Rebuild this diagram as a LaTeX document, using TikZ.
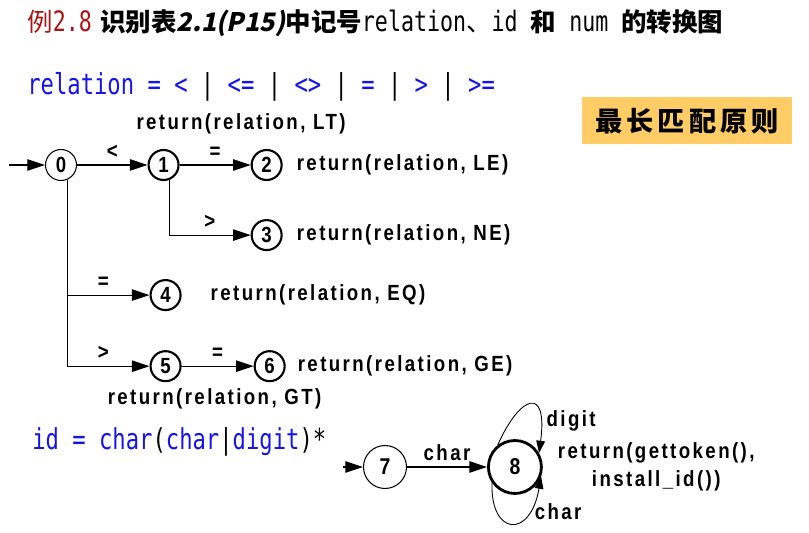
\documentclass[tikz,border=0pt]{standalone}
\usepackage{fontspec}
\usepackage{xcolor}
\usepackage{tikz}
\usetikzlibrary{arrows.meta, positioning}

\newfontfamily\cjk{Noto Sans CJK SC}
\newfontfamily\cjkslant[FakeSlant=0.2]{Noto Sans CJK SC}
\newfontfamily\cjkwide[LetterSpace=15]{Noto Sans CJK SC}
\newfontfamily\codefont[FakeStretch=0.77]{DejaVu Sans Mono}
\newfontfamily\lblfont[FakeStretch=0.85, LetterSpace=11]{Liberation Sans}

\definecolor{titlered}{RGB}{170,20,20}
\definecolor{codeblue}{RGB}{20,20,235}
\definecolor{ruleorange}{RGB}{255,204,102}

\begin{document}
\begin{tikzpicture}[x=0.02cm, y=-0.02cm,
    every node/.style={font=\lblfont\bfseries\fontsize{12.5}{15}\selectfont},
    stthin/.style={draw, circle, line width=0.6pt, minimum size=0.62cm, inner sep=0pt},
    stthick/.style={draw, circle, line width=1.2pt, minimum size=0.6cm, inner sep=0pt},
    act/.style={inner sep=1pt},
    trans/.style={line width=0.6pt, -{Triangle[length=10pt, width=6.5pt]}},
    loopedge/.style={line width=0.5pt, -{Triangle[length=7pt, width=5pt]}},
    code/.style={anchor=west, inner sep=0pt, font=\codefont\fontsize{16.4}{18}\selectfont}]

    \useasboundingbox (0,0) rectangle (809,533);

    % Title
    \node[anchor=west, inner sep=0pt, font=\fontsize{14.5}{17}\selectfont] (title) at (27,23) {%
        {\color{titlered}\cjk 例\codefont\fontsize{16}{17}\selectfont 2.8} {\cjk\bfseries 识别表}{\cjkslant\bfseries 2.1(P15)}{\cjk\bfseries 中记号}%
        {\codefont\fontsize{16}{17}\selectfont relation}{\cjk 、}{\codefont\fontsize{16}{17}\selectfont id }%
        {\cjk\bfseries 和}{\codefont\fontsize{16}{17}\selectfont\ num }{\cjk\bfseries 的转换图}};

    % Definitions
    \node[code, text=codeblue] (reldef) at (27,87)
        {relation = < {\color{black}|} <= {\color{black}|} <> {\color{black}|} = {\color{black}|} > {\color{black}|} >=};
    \node[code, text=codeblue] (iddef) at (32,442)
        {id = char{\color{black}(}char{\color{black}|}digit{\color{black})*}};

    % Longest match box
    \node[fill=ruleorange, minimum width=4.2cm, minimum height=0.94cm,
          font=\cjkwide\bfseries\fontsize{15.5}{18}\selectfont] (rule) at (687,121) {最长匹配原则};

    % relation states
    \node[stthin] (s0) at (61,165) {0};
    \node[stthick, right=1.41cm of s0] (s1) {1};
    \node[stthick, right=1.42cm of s1] (s2) {2};
    \node[stthick, below=0.76cm of s2] (s3) {3};
    \node[stthick, below=1.96cm of s1, xshift=0.04cm] (s4) {4};
    \node[stthick, below=0.78cm of s4] (s5) {5};
    \node[stthick, right=1.44cm of s5] (s6) {6};

    % relation actions
    \node[act, above=0.26cm of s1, xshift=1.55cm] (actLT) {return(relation, LT)};
    \node[act, right=0.24cm of s2] (actLE) {return(relation, LE)};
    \node[act, right=0.24cm of s3] (actNE) {return(relation, NE)};
    \node[act, right=0.54cm of s4] (actEQ) {return(relation, EQ)};
    \node[act, right=0.2cm of s6] (actGE) {return(relation, GE)};
    \node[act, below=0.08cm of s5, xshift=0.98cm] (actGT) {return(relation, GT)};

    % relation transitions
    \coordinate[left=0.71cm of s0] (in0);
    \draw[trans] (in0) -- (s0);
    \draw[trans] (s0) -- node[above] {<} (s1);
    \draw[trans] (s1) -- node[above] {=} (s2);
    \draw[trans] (s1.-70) |- node[pos=0.75, above] {>} (s3);
    \draw[trans] (s0.-67) |- node[pos=0.72, above] {=} (s4);
    \draw[trans] (s0.-67) |- node[pos=0.72, above] {>} (s5);
    \draw[trans] (s5) -- node[above] {=} (s6);

    % id states
    \node[stthin, minimum size=0.86cm, font=\lblfont\bfseries\fontsize{13}{15}\selectfont] (s7) at (385,467) {7};
    \node[stthick, minimum size=1.06cm, line width=1.6pt, right=1.6cm of s7,
          font=\lblfont\bfseries\fontsize{13}{15}\selectfont] (s8) {8};
    \node[act, right=0.26cm of s8, align=center] (act8) {return(gettoken(),\\[1pt]install\_id())};

    % id transitions
    \coordinate[left=0.4cm of s7] (in7);
    \draw[trans] (in7) -- (s7);
    \draw[trans] (s7) -- node[above] {char} (s8);
    \draw[loopedge] (s8.128) .. controls (520,395) and (548,385) .. node[pos=0.8, right] {digit} (s8.30);
    \draw[loopedge] (s8.215) .. controls (490,535) and (530,540) .. node[pos=0.75, right] {char} (s8.-20);

\end{tikzpicture}
\end{document}
